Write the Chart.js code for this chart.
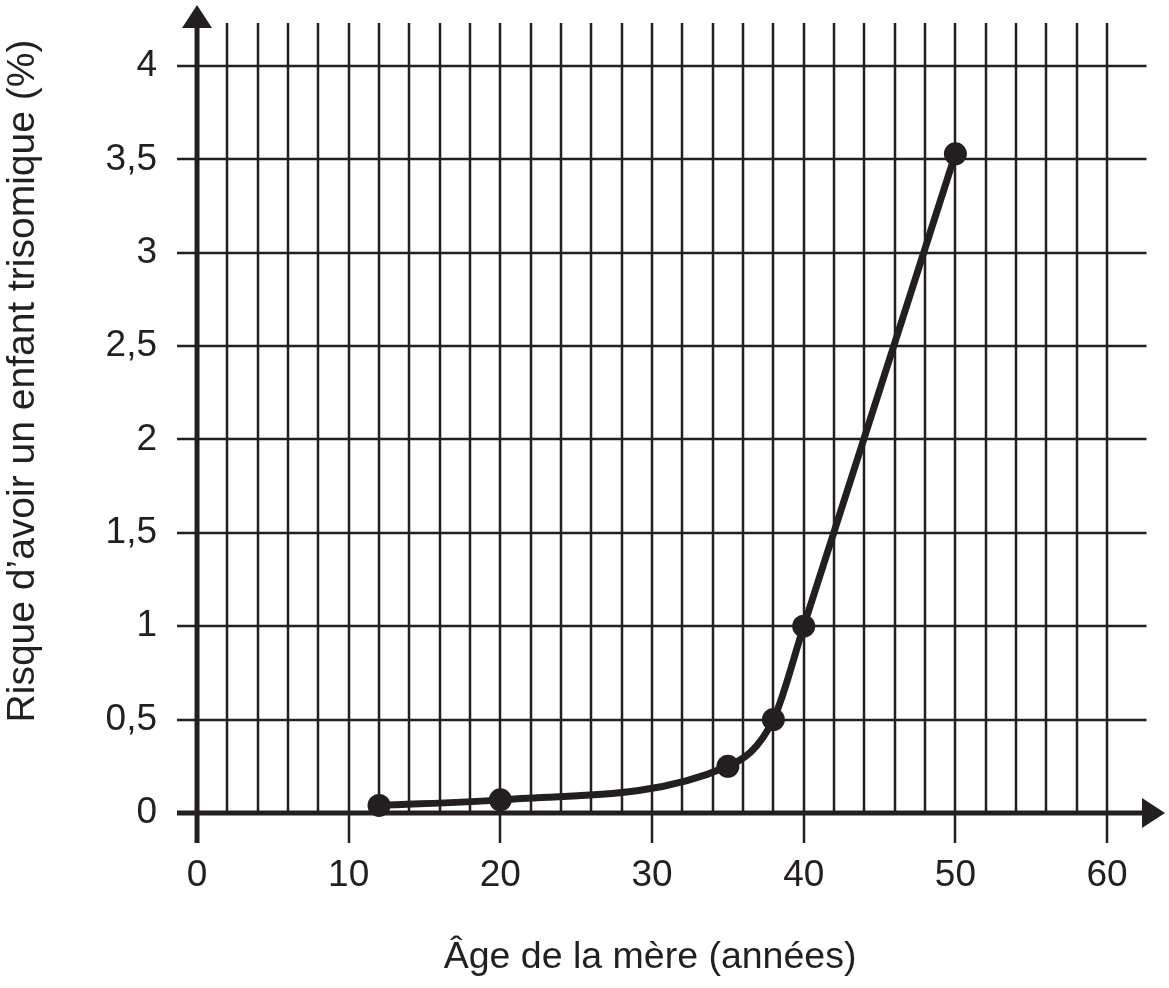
<!DOCTYPE html>
<html lang="fr">
<head>
<meta charset="utf-8">
<title>Risque de trisomie selon l'âge de la mère</title>
<script src="https://cdn.jsdelivr.net/npm/chart.js@4.4.1/dist/chart.umd.min.js"></script>
<style>
  body { margin: 0; background: #fff; }
  canvas { display: block; }
</style>
</head>
<body>
<canvas id="riskChart" width="1169" height="988"></canvas>
<script>
// Data
const ages = [12, 20, 35, 38, 40, 50];
const risks = [0.04, 0.07, 0.25, 0.5, 1, 3.53];

// Axis labels and ticks
const xTickValues = [0, 10, 20, 30, 40, 50, 60];
const yTickValues = [0, 0.5, 1, 1.5, 2, 2.5, 3, 3.5, 4];
const xTitle = 'Âge de la mère (années)';
const yTitle = 'Risque d’avoir un enfant trisomique (%)';

const ink = '#231f20';
const font = '"Liberation Sans", Arial, sans-serif';

// grid, axes and arrows drawn with the chart's own scales
const paperGrid = {
  id: 'paperGrid',
  beforeDatasetsDraw(chart) {
    const { ctx, chartArea, scales: { x, y } } = chart;
    ctx.save();
    ctx.strokeStyle = ink;
    ctx.fillStyle = ink;

    // vertical lines every 2 years
    ctx.lineWidth = 2.5;
    for (let v = 2; v <= 60; v += 2) {
      const px = Math.round(x.getPixelForValue(v));
      ctx.beginPath();
      ctx.moveTo(px, y.getPixelForValue(0));
      ctx.lineTo(px, y.getPixelForValue(4.23));
      ctx.stroke();
    }
    // horizontal lines every 0.5 %
    for (let v = 0.5; v <= 4; v += 0.5) {
      const py = Math.round(y.getPixelForValue(v));
      ctx.beginPath();
      ctx.moveTo(chartArea.left, py);
      ctx.lineTo(x.getPixelForValue(62.6), py);
      ctx.stroke();
    }
    // tick marks under the x axis
    xTickValues.forEach(v => {
      if (v === 0) return;
      const px = Math.round(x.getPixelForValue(v));
      ctx.beginPath();
      ctx.moveTo(px, y.getPixelForValue(0));
      ctx.lineTo(px, chartArea.bottom);
      ctx.stroke();
    });

    // axes
    const x0 = x.getPixelForValue(0);
    const y0 = y.getPixelForValue(0);
    ctx.lineWidth = 5;
    ctx.beginPath();
    ctx.moveTo(chartArea.left, y0);
    ctx.lineTo(chartArea.right - 20, y0);
    ctx.stroke();
    ctx.beginPath();
    ctx.moveTo(x0, chartArea.bottom);
    ctx.lineTo(x0, chartArea.top + 20);
    ctx.stroke();

    // arrow heads
    ctx.beginPath();
    ctx.moveTo(chartArea.right, y0);
    ctx.lineTo(chartArea.right - 23, y0 - 15);
    ctx.lineTo(chartArea.right - 23, y0 + 15);
    ctx.closePath();
    ctx.fill();
    ctx.beginPath();
    ctx.moveTo(x0, chartArea.top);
    ctx.lineTo(x0 - 15, chartArea.top + 23);
    ctx.lineTo(x0 + 15, chartArea.top + 23);
    ctx.closePath();
    ctx.fill();

    // axis titles
    ctx.textAlign = 'center';
    ctx.textBaseline = 'alphabetic';
    ctx.font = '37.5px ' + font;
    ctx.fillText(xTitle, (x0 + x.getPixelForValue(60)) / 2 - 2, 968);
    ctx.font = '39px ' + font;
    ctx.translate(34, 381);
    ctx.rotate(-Math.PI / 2);
    ctx.fillText(yTitle, 0, 0);
    ctx.restore();
  }
};

new Chart(document.getElementById('riskChart'), {
  type: 'scatter',
  data: {
    datasets: [{
      data: ages.map((a, i) => ({ x: a, y: risks[i] })),
      showLine: true,
      cubicInterpolationMode: 'monotone',
      borderColor: ink,
      borderWidth: 7,
      pointRadius: 11.5,
      pointBackgroundColor: ink,
      pointBorderWidth: 0,
      clip: false
    }]
  },
  options: {
    responsive: false,
    animation: false,
    layout: { autoPadding: false, padding: { top: 5, right: 4, left: 0, bottom: 0 } },
    plugins: { legend: { display: false }, tooltip: { enabled: false } },
    scales: {
      x: {
        type: 'linear',
        min: -1.32,
        max: 63.82,
        border: { display: false },
        grid: { display: false, drawTicks: false },
        afterBuildTicks: s => { s.ticks = xTickValues.map(v => ({ value: v })); },
        afterFit: s => { s.height = 145; s.paddingLeft = 0; s.paddingRight = 0; },
        ticks: {
          autoSkip: false,
          maxRotation: 0,
          padding: 11,
          color: ink,
          font: { family: font, size: 37 }
        }
      },
      y: {
        type: 'linear',
        min: -0.161,
        max: 4.327,
        border: { display: false },
        grid: { display: false, drawTicks: false },
        afterBuildTicks: s => { s.ticks = yTickValues.map(v => ({ value: v })); },
        afterFit: s => { s.width = 177; s.paddingTop = 0; s.paddingBottom = 0; },
        ticks: {
          autoSkip: false,
          padding: 20,
          color: ink,
          font: { family: font, size: 37 },
          callback: v => String(v).replace('.', ',')
        }
      }
    }
  },
  plugins: [paperGrid]
});
</script>
</body>
</html>
